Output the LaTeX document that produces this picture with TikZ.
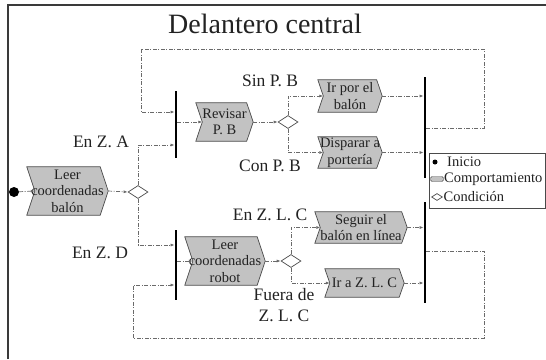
\documentclass[tikz,border=0pt]{standalone}
\usepackage{fontspec}
\setmainfont{Liberation Serif}
\usetikzlibrary{shapes.geometric,arrows.meta,backgrounds}
\definecolor{boxgray}{HTML}{C2C2C2}
\definecolor{linegray}{HTML}{6A6A6A}
\definecolor{edgegray}{HTML}{4A4A4A}
\definecolor{inkgray}{HTML}{222222}
\definecolor{framegray}{HTML}{3A3A3A}
\newcommand\chevpath[2]{\draw[chevshape] (#1.north west) -- ([xshift=-#2]#1.north east) -- (#1.east) -- ([xshift=-#2]#1.south east) -- (#1.south west) -- ([xshift=#2]#1.west) -- cycle;}
\begin{document}
\begin{tikzpicture}[x=1pt,y=-1pt,
  conn/.style={draw=linegray, line width=0.7pt, dash pattern=on 4pt off 1.5pt on 1pt off 1.5pt},
  arr/.style={conn, -{Latex[length=4pt,width=3pt]}},
  bar/.style={fill=black, inner sep=0, minimum width=2.4pt},
  chev/.style={inner sep=0, align=center, font=\fontsize{14.5}{16.5}\selectfont, text=inkgray},
  chevshape/.style={fill=boxgray, draw=edgegray, line width=0.7pt},
  cond/.style={diamond, draw=edgegray, fill=white, line width=0.7pt, inner sep=0, minimum width=20pt, minimum height=13pt},
  lbl/.style={font=\fontsize{17.5}{21}\selectfont, text=inkgray, inner sep=0, align=center},
  lgt/.style={font=\fontsize{14.5}{16}\selectfont, text=inkgray, inner sep=0, anchor=west},
]
\useasboundingbox (0,0) rectangle (546,359);
% frame
\draw[framegray, line width=1.5pt] (8,359) -- (8,5) -- (546,5);
% title
\node[font=\fontsize{28}{32}\selectfont, text=inkgray] (title) at (265,24) {Delantero central};

% behaviour boxes
\node[chev, minimum width=81pt, minimum height=48pt] (lb) at (67.5,191) {Leer\\coordenadas\\balón};
\node[chev, minimum width=57pt, minimum height=38pt] (rev) at (224.5,122) {Revisar\\P. B};
\node[chev, minimum width=64pt, minimum height=32pt] (ir) at (350,96) {Ir por el\\balón};
\node[chev, minimum width=64pt, minimum height=31pt] (dis) at (350,152.5) {Disparar a\\portería};
\node[chev, minimum width=92pt, minimum height=31pt] (seg) at (361,227.5) {Seguir el\\balón en línea};
\node[chev, minimum width=80pt, minimum height=48pt] (lr) at (225,261) {Leer\\coordenadas\\robot};
\node[chev, minimum width=79pt, minimum height=28pt] (irz) at (364.5,283) {Ir a Z. L. C};
\begin{scope}[on background layer]
\chevpath{lb}{8pt}
\chevpath{rev}{6.5pt}
\chevpath{ir}{5.5pt}
\chevpath{dis}{5.5pt}
\chevpath{seg}{5.5pt}
\chevpath{lr}{8pt}
\chevpath{irz}{5pt}
\end{scope}

% start, conditions, bars
\node[circle, fill=black, inner sep=0, minimum size=10pt] (st) at (14,192) {};
\node[cond] (d0) at (138,192) {};
\node[cond] (d1) at (288,122) {};
\node[cond] (d2) at (291,261) {};
\node[bar, minimum height=67pt] (b1) at (176,124) {};
\node[bar, minimum height=101pt] (b2) at (425,127.5) {};
\node[bar, minimum height=70pt] (b3) at (176,265) {};
\node[bar, minimum height=101pt] (b4) at (425,252.5) {};

% loop corners and levels
\coordinate (za) at (150,145);
\coordinate (zd) at (150,245);
\coordinate (tout) at (450,128);
\coordinate (tr) at (484,49);
\coordinate (tl) at (141,49);
\coordinate (tin) at (150,112);
\coordinate (bout) at (450,251);
\coordinate (br) at (484,338);
\coordinate (bl) at (133,338);
\coordinate (bin) at (150,285);

% connectors
\draw[arr] (st) -- ([xshift=8pt]lb.west);
\draw[arr] (lb.east) -- (d0.west);
\draw[arr] (d0.north) |- (b1.west |- za);
\draw[arr] (d0.south) |- (b3.west |- zd);
\draw[arr] (b2.east |- tout) -| (tr) -- (tl) |- (b1.west |- tin);
\draw[arr] (b1.east |- rev) -- ([xshift=6.5pt]rev.west);
\draw[arr] (rev.east) -- (d1.west);
\draw[arr] (d1.north) |- ([xshift=5.5pt]ir.west);
\draw[arr] (d1.south) |- ([xshift=5.5pt]dis.west);
\draw[arr] (ir.east) -- (b2.west |- ir);
\draw[arr] (dis.east) -- (b2.west |- dis);
\draw[arr] (b3.east |- lr) -- ([xshift=8pt]lr.west);
\draw[arr] (lr.east) -- (d2.west);
\draw[arr] (d2.north) |- ([xshift=5.5pt]seg.west);
\draw[arr] (d2.south) |- ([xshift=5pt]irz.west);
\draw[arr] (seg.east) -- (b4.west |- seg);
\draw[arr] (irz.east) -- (b4.west |- irz);
\draw[arr] (b4.east |- bout) -| (br) -- (bl) |- (b3.west |- bin);

% labels
\node[lbl] (lsin) at (270,81) {Sin P. B};
\node[lbl] (lcon) at (270,166) {Con P. B};
\node[lbl] (lza) at (101,142) {En Z. A};
\node[lbl] (lzd) at (100,253) {En Z. D};
\node[lbl] (lzl) at (270,215) {En Z. L. C};
\node[lbl] (lfu) at (284,305) {Fuera de\\Z. L. C};

% legend
\node[draw=edgegray, line width=0.7pt, fill=white, minimum width=116pt, minimum height=55pt, inner sep=0] (leg) at (487,180.5) {};
\node[circle, fill=black, inner sep=0, minimum size=5pt] (li) at (435,162) {};
\node[lgt] (lit) at (447,162) {Inicio};
\node[draw=edgegray, fill=boxgray, rounded corners=1.5pt, minimum width=13pt, minimum height=5pt, inner sep=0] (lc) at (437,179) {};
\node[lgt] (lct) at (444,179) {Comportamiento};
\node[cond, minimum width=11pt, minimum height=7pt] (ld) at (437,197) {};
\node[lgt] (ldt) at (443.5,197) {Condición};
\end{tikzpicture}
\end{document}
